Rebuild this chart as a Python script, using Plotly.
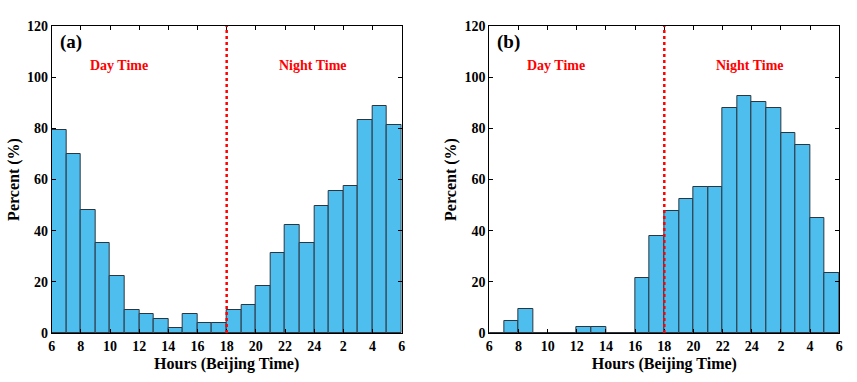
import plotly.graph_objects as go
from plotly.subplots import make_subplots

# Hour bins (start of each 1-hour bin, 6 -> 30 meaning 6 next day)
hour_bins = [6, 7, 8, 9, 10, 11, 12, 13, 14, 15, 16, 17,
             18, 19, 20, 21, 22, 23, 24, 25, 26, 27, 28, 29]
percent_a = [79.5, 70.0, 48.1, 35.1, 22.2, 9.1, 7.3, 5.5, 2.0, 7.3, 3.8, 3.8,
             9.1, 11.1, 18.4, 31.4, 42.4, 35.1, 49.8, 55.4, 57.3, 83.1, 88.7, 81.4]
percent_b = [0, 4.6, 9.4, 0, 0, 0, 2.3, 2.3, 0, 0, 21.4, 37.8,
             47.5, 52.2, 56.9, 56.9, 87.9, 92.5, 90.3, 87.9, 78.3, 73.6, 45.0, 23.6]
tick_vals = [6, 8, 10, 12, 14, 16, 18, 20, 22, 24, 26, 28, 30]
tick_text = ["6", "8", "10", "12", "14", "16", "18", "20", "22", "24", "2", "4", "6"]
y_ticks = [0, 20, 40, 60, 80, 100, 120]
panel_labels = ["(a)", "(b)"]
boundary_hour = 18

FONT = "Liberation Serif"
BAR_COLOR = "#4DBEEE"
EDGE_COLOR = "#2b3640"

fig = make_subplots(rows=1, cols=2, horizontal_spacing=0.1)

for i, vals in enumerate([percent_a, percent_b], start=1):
    centers = [h + 0.5 for h in hour_bins]
    fig.add_trace(go.Bar(x=centers, y=vals, width=1,
                         marker=dict(color=BAR_COLOR, line=dict(color=EDGE_COLOR, width=1)),
                         showlegend=False), row=1, col=i)

axis_common = dict(showline=True, linecolor="black", linewidth=1, mirror="ticks",
                   ticks="inside", ticklen=4, tickcolor="black", showgrid=False,
                   zeroline=False, automargin=False,
                   tickfont=dict(family=FONT, size=14, color="black", weight="bold"))

xdomains = [[0.0603, 0.4687], [0.571, 0.9793]]
for i in (1, 2):
    fig.update_xaxes(range=[6, 30], tickvals=tick_vals, ticktext=tick_text,
                     domain=xdomains[i - 1],
                     title=dict(text="<b>Hours (Beijing Time)</b>", standoff=5,
                                font=dict(family=FONT, size=16, color="black")),
                     **axis_common, row=1, col=i)
    fig.update_yaxes(range=[0, 120], tickvals=y_ticks,
                     title=dict(text="<b>Percent (%)</b>", standoff=3,
                                font=dict(family=FONT, size=16, color="black")),
                     **axis_common, row=1, col=i)

for i, xr, yr in [(0, "x", "y"), (1, "x2", "y2")]:
    fig.add_shape(type="line", xref=xr, yref=yr, x0=boundary_hour, x1=boundary_hour,
                  y0=0, y1=120, line=dict(color="red", width=2.5, dash="dot"))
    fig.add_annotation(xref=xr, yref=yr, x=6.4, y=113.6, xanchor="left", yanchor="middle",
                       text="<b>" + panel_labels[i] + "</b>", showarrow=False,
                       font=dict(family=FONT, size=19, color="black"))
    fig.add_annotation(xref=xr, yref=yr, x=10.6, y=104.5, text="<b>Day Time</b>",
                       showarrow=False, font=dict(family=FONT, size=14, color="red"))
    fig.add_annotation(xref=xr, yref=yr, x=23.9, y=104.5, text="<b>Night Time</b>",
                       showarrow=False, font=dict(family=FONT, size=14, color="red"))

fig.update_layout(width=857, height=382, plot_bgcolor="white", paper_bgcolor="white",
                  margin=dict(l=0, r=0, t=26, b=49), bargap=0)

fig.write_html("out.html", config={"displayModeBar": False},
               post_script="document.body.style.margin='0';document.body.style.overflow='hidden';")
